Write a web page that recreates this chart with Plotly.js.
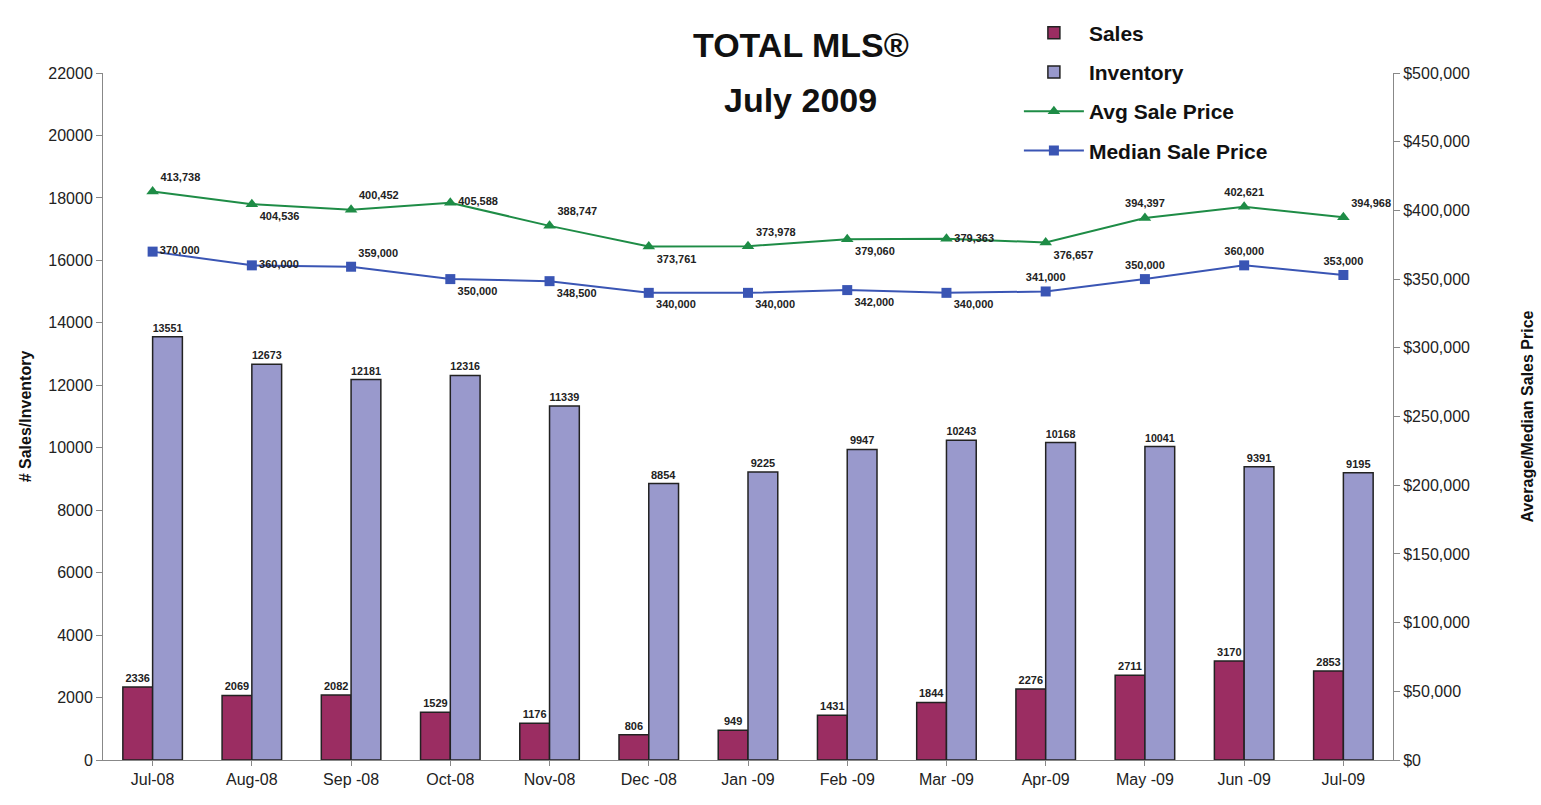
<!DOCTYPE html>
<html><head><meta charset="utf-8">
<script src="https://cdn.plot.ly/plotly-3.0.1.min.js"></script>
<style>html,body{margin:0;padding:0;background:#fff}#chart{width:1541px;height:805px}</style>
</head><body><div id="chart"></div>
<script>
const months = ["Jul-08","Aug-08","Sep -08","Oct-08","Nov-08","Dec -08","Jan -09","Feb -09","Mar -09","Apr-09","May -09","Jun -09","Jul-09"];
const sales = [2336,2069,2082,1529,1176,806,949,1431,1844,2276,2711,3170,2853];
const inventory = [13551,12673,12181,12316,11339,8854,9225,9947,10243,10168,10041,9391,9195];
const avgPrice = [413738,404536,400452,405588,388747,373761,373978,379060,379363,376657,394397,402621,394968];
const medianPrice = [370000,360000,359000,350000,348500,340000,340000,342000,340000,341000,350000,360000,353000];
const avgPos = ["top right","bottom right","top right","middle right","top right","bottom right","top right","bottom right","middle right","bottom right","top center","top center","top right"];
const medPos = ["middle right","middle right","top right","bottom right","bottom right","bottom right","bottom right","bottom right","bottom right","top center","top center","top center","top center"];
const titleLines = ["TOTAL MLS®","July 2009"];

const fmt = v => v.toLocaleString('en-US');
const lblFont = {family:"Liberation Sans, Arial", size:11, color:"#222", weight:"bold"};

const traces = [
  {type:"bar", name:"Sales", legendgroup:"a", x:months, y:sales, text:sales.map(String), textposition:"outside",
   textfont:lblFont, cliponaxis:false,
   marker:{color:"#9B2D62", line:{color:"#222", width:1.5}}},
  {type:"bar", name:"Inventory", legendgroup:"b", x:months, y:inventory, text:inventory.map(String), textposition:"outside",
   textfont:lblFont, cliponaxis:false,
   marker:{color:"#9999CC", line:{color:"#222", width:1.5}}},
  {type:"scatter", mode:"lines+markers+text", name:"Avg Sale Price", legendgroup:"c", x:months, y:avgPrice, yaxis:"y2",
   text:avgPrice.map(fmt), textposition:avgPos, textfont:lblFont, cliponaxis:false,
   line:{color:"#1E8C46", width:2}, marker:{symbol:"triangle-up", size:11, color:"#1E8C46"}},
  {type:"scatter", mode:"lines+markers+text", name:"Median Sale Price", legendgroup:"d", x:months, y:medianPrice, yaxis:"y2",
   text:medianPrice.map(fmt), textposition:medPos, textfont:lblFont, cliponaxis:false,
   line:{color:"#3A55B4", width:2}, marker:{symbol:"square", size:10, color:"#3A55B4"}}
];

const tickFont = {family:"Liberation Sans, Arial", size:16, color:"#222"};
const layout = {
  width:1541, height:805,
  margin:{l:103, r:148, t:73, b:45},
  paper_bgcolor:"#fff", plot_bgcolor:"#fff",
  barmode:"group", bargap:0.4, bargroupgap:0,
  annotations:[
    {text:"<b>"+titleLines[0]+"</b>", xref:"paper", yref:"paper", x:0.541, y:1.041, xanchor:"center", yanchor:"middle",
     showarrow:false, font:{family:"Liberation Sans, Arial", size:34, color:"#111"}},
    {text:"<b>"+titleLines[1]+"</b>", xref:"paper", yref:"paper", x:0.541, y:0.961, xanchor:"center", yanchor:"middle",
     showarrow:false, font:{family:"Liberation Sans, Arial", size:34, color:"#111"}}
  ],
  showlegend:true,
  legend:{x:0.71, y:1.088, xanchor:"left", yanchor:"top", traceorder:"grouped", itemwidth:60,
          font:{family:"Liberation Sans, Arial", size:21, color:"#111", weight:"bold"}, bgcolor:"rgba(0,0,0,0)", tracegroupgap:9},
  xaxis:{type:"category", range:[-0.5,12.5], tickfont:tickFont, showline:true, linecolor:"#888", linewidth:1,
         ticks:"outside", ticklen:5, tickcolor:"#888", showgrid:false, zeroline:false},
  yaxis:{range:[0,22000], dtick:2000, tickformat:"d", tickfont:tickFont, showline:true, linecolor:"#888", linewidth:1,
         ticks:"outside", ticklen:6, tickcolor:"#888", showgrid:false, zeroline:false,
         title:{text:"<b># Sales/Inventory</b>", font:{family:"Liberation Sans, Arial", size:16, color:"#111"}, standoff:12}},
  yaxis2:{range:[0,500000], dtick:50000, overlaying:"y", side:"right", tickfont:tickFont,
          tickprefix:"$", tickformat:",d", showline:true, linecolor:"#888", linewidth:1,
          ticks:"outside", ticklen:6, tickcolor:"#888", showgrid:false, zeroline:false,
          title:{text:"<b>Average/Median Sales Price</b>", font:{family:"Liberation Sans, Arial", size:16, color:"#111"}, standoff:52}}
};
Plotly.newPlot("chart", traces, layout, {displayModeBar:false});
</script></body></html>
